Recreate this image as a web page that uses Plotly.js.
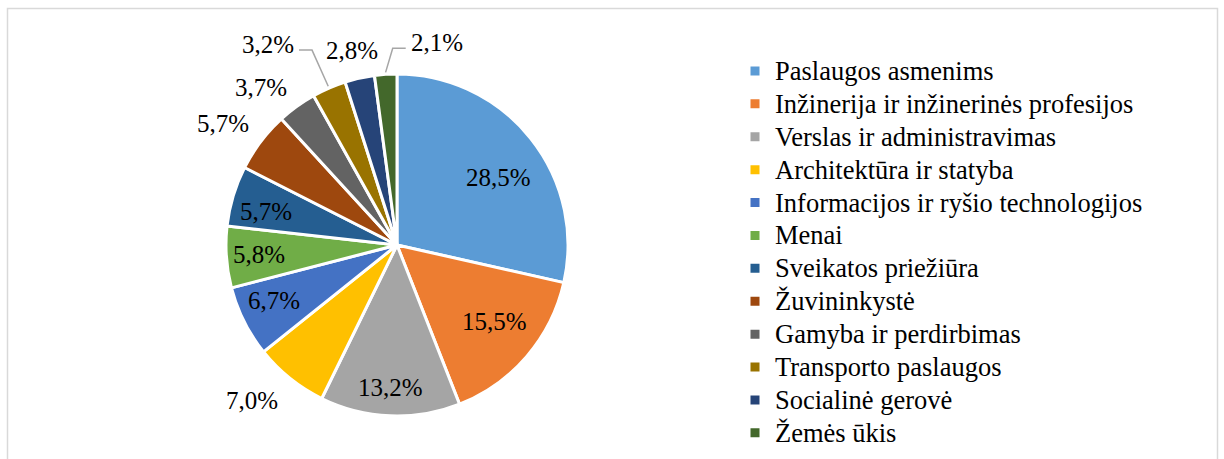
<!DOCTYPE html>
<html><head><meta charset="utf-8">
<script src="https://cdn.plot.ly/plotly-3.0.1.min.js"></script>
<style>html,body{margin:0;padding:0;background:#fff}#chart{width:1224px;height:459px}</style>
</head><body>
<div id="chart"></div>
<script>
const categories = ["Paslaugos asmenims","Inžinerija ir inžinerinės profesijos","Verslas ir administravimas","Architektūra ir statyba","Informacijos ir ryšio technologijos","Menai","Sveikatos priežiūra","Žuvininkystė","Gamyba ir perdirbimas","Transporto paslaugos","Socialinė gerovė","Žemės ūkis"];
const values = [28.5,15.5,13.2,7.0,6.7,5.8,5.7,5.7,3.7,3.2,2.8,2.1];
const colors = ["#5B9BD5","#ED7D31","#A5A5A5","#FFC000","#4472C4","#70AD47","#255E91","#9E480E","#636363","#997300","#264478","#43682B"];

// Label placement (styling only): pixel offset of each label centre from its slice's
// outer-edge point at the mid angle; leader = side of the text a leader line leaves from (0 = none)
const labelOffsets = [[-32, 39], [-32, -35], [0, -28], [-38, 22], [30, -21], [33, -3], [33, 16], [-38, -18], [-36, -19], [-61, -44], [-8, -28], [51, -32]];
const labelLeader = [0, 0, 0, 0, 0, 0, 0, 0, 0, 1, 0, -1];

const SERIF = "Liberation Serif";
const W = 1224, H = 459;
const cx = 397, cy = 245, R = 171;

const fmt = v => v.toFixed(1).replace(".", ",") + "%";
const total = values.reduce((a, b) => a + b, 0);
const px = x => x / W, py = y => 1 - y / H;

const trace = {
  type: "pie",
  labels: categories.map(c => '<span style="font-size:26.5px">' + c + '</span>'),
  values: values,
  sort: false,
  direction: "clockwise",
  rotation: 0,
  marker: {colors: colors, line: {color: "#ffffff", width: 3}},
  textinfo: "none",
  domain: {x: [px(cx - R), px(cx + R)], y: [py(cy + R), py(cy - R)]},
  hoverinfo: "percent",
  automargin: false
};

const annotations = [];
const shapes = [{
  type: "rect", xref: "paper", yref: "paper",
  x0: px(7.5), x1: px(1217.5), y0: -0.01, y1: py(8.5),
  line: {color: "#d9d9d9", width: 1.5}, fillcolor: "rgba(0,0,0,0)"
}];
let cum = 0;
values.forEach((v, i) => {
  const th = (cum + v / 2) / total * 2 * Math.PI;
  cum += v;
  const ex = cx + R * Math.sin(th), ey = cy - R * Math.cos(th);
  const [dx, dy] = labelOffsets[i];
  const lx = ex + dx, ly = ey + dy;
  annotations.push({
    xref: "paper", yref: "paper", x: px(lx), y: py(ly),
    text: fmt(v), showarrow: false,
    font: {family: SERIF, size: 25, color: "#000000"},
    xanchor: "center", yanchor: "middle"
  });
  const side = labelLeader[i];
  if (side) {
    const sx = lx + side * 31, sy = ly + 6, bx = sx + side * 13;
    const tx = cx + (R + 2) * Math.sin(th), ty = cy - (R + 2) * Math.cos(th);
    shapes.push({
      type: "path", xref: "paper", yref: "paper",
      path: `M ${px(sx)} ${py(sy)} L ${px(bx)} ${py(sy)} L ${px(tx)} ${py(ty)}`,
      line: {color: "#a6a6a6", width: 1.5}
    });
  }
});

const layout = {
  width: W, height: H,
  font: {family: SERIF, color: "#000000"},
  margin: {l: 0, r: 0, t: 0, b: 0},
  separators: ", ",
  paper_bgcolor: "#ffffff",
  showlegend: true,
  legend: {
    x: px(735), xanchor: "left",
    y: py(252), yanchor: "middle",
    font: {family: SERIF, size: 23, color: "#000000"},
    traceorder: "normal",
    bgcolor: "rgba(0,0,0,0)"
  },
  annotations: annotations,
  shapes: shapes
};
Plotly.newPlot("chart", [trace], layout, {displayModeBar: false, staticPlot: true});
</script>
</body></html>
